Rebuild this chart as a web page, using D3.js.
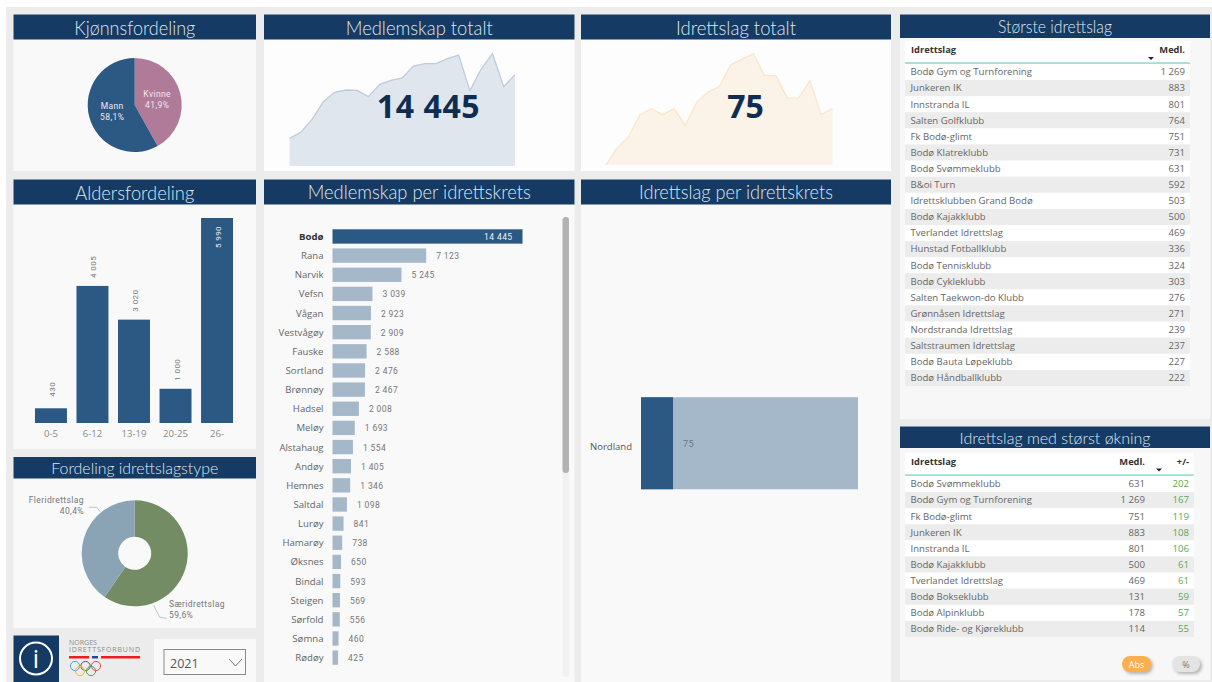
<!DOCTYPE html>
<html>
<head>
<meta charset="UTF-8">
<title>Idrettsrapport Bodø</title>
<script src="https://cdn.jsdelivr.net/npm/d3@7/dist/d3.min.js"></script>
<style>
html, body { margin:0; padding:0; background:#fff; overflow:hidden; }
svg { display:block; }
text { font-family:"Open Sans", sans-serif; }
.title { font-family:Lato, sans-serif; font-weight:300; fill:#dfe8f0; text-anchor:middle; }
.lbl { font-family:Roboto, sans-serif; letter-spacing:.4px; }
</style>
</head>
<body>
<svg id="chart" width="1212" height="682"></svg>
<script>
const genderLabels = ['Kvinne', 'Mann'];
const genderValues = [41.9, 58.1];
const memberTrend = [4376, 5325, 7381, 10175, 11651, 12020, 11967, 10966, 12916, 13549, 13918, 15816, 16185, 16185, 16976, 17555, 11915, 15341, 17767, 12547, 14445];
const clubTrend = [0, 23, 38, 67, 75, 67, 75, 53, 83, 97, 104, 133, 141, 148, 119, 119, 89, 89, 112, 67, 75];
const ageGroups = ['0-5', '6-12', '13-19', '20-25', '26-'];
const ageValues = [430, 4005, 3020, 1000, 5990];
const typeLabels = ['Særidrettslag', 'Fleridrettslag'];
const typeValues = [59.6, 40.4];
const kommuner = ['Bodø','Rana','Narvik','Vefsn','Vågan','Vestvågøy','Fauske','Sortland','Brønnøy','Hadsel','Meløy','Alstahaug','Andøy','Hemnes','Saltdal','Lurøy','Hamarøy','Øksnes','Bindal','Steigen','Sørfold','Sømna','Rødøy'];
const kommuneValues = [14445,7123,5245,3039,2923,2909,2588,2476,2467,2008,1693,1554,1405,1346,1098,841,738,650,593,569,556,460,425];
const kretsNames = ['Nordland'];
const kretsSelected = [75];
const kretsTotal = [508];
const bigClubs = ['Bodø Gym og Turnforening','Junkeren IK','Innstranda IL','Salten Golfklubb','Fk Bodø-glimt','Bodø Klatreklubb','Bodø Svømmeklubb','B&oi Turn','Idrettsklubben Grand Bodø','Bodø Kajakklubb','Tverlandet Idrettslag','Hunstad Fotballklubb','Bodø Tennisklubb','Bodø Cykleklubb','Salten Taekwon-do Klubb','Grønnåsen Idrettslag','Nordstranda Idrettslag','Saltstraumen Idrettslag','Bodø Bauta Løpeklubb','Bodø Håndballklubb'];
const bigMembers = [1269,883,801,764,751,731,631,592,503,500,469,336,324,303,276,271,239,237,227,222];
const growClubs = ['Bodø Svømmeklubb','Bodø Gym og Turnforening','Fk Bodø-glimt','Junkeren IK','Innstranda IL','Bodø Kajakklubb','Tverlandet Idrettslag','Bodø Bokseklubb','Bodø Alpinklubb','Bodø Ride- og Kjøreklubb'];
const growMembers = [631,1269,751,883,801,500,469,131,178,114];
const growChange = [202,167,119,108,106,61,61,59,57,55];

const navy = '#153a63', bar = '#2b5983', barLight = '#a5b8ca';
const fmt = n => String(n).replace(/\B(?=(\d{3})+$)/g, '\u00a0');
const dec = n => String(n).replace('.', ',') + '%';
const svg = d3.select('#chart');

svg.append('rect').attr('x', 6).attr('y', 7).attr('width', 1206).attr('height', 675).attr('fill', '#ececec');

// titleW squeezes the title to the width it has in the original font
function panel(x, w, y, hh, bottom, title, size, titleW, bodyFill) {
  svg.append('rect').attr('x', x).attr('y', y).attr('width', w).attr('height', bottom - y).attr('fill', bodyFill || '#f9f9f9');
  svg.append('rect').attr('x', x).attr('y', y).attr('width', w).attr('height', hh).attr('fill', navy);
  svg.append('text').attr('class', 'title').attr('x', x + w / 2).attr('y', y + hh / 2 + size * 0.36 + 0.5)
    .attr('font-size', size).attr('textLength', titleW).attr('lengthAdjust', 'spacingAndGlyphs').text(title);
}
panel(13.5, 242.5, 14.5, 25, 171, 'Kjønnsfordeling', 20, 121);
panel(264, 310.5, 14.5, 25, 171, 'Medlemskap totalt', 20, 147, '#fdfdfd');
panel(581, 310, 14.5, 25, 171, 'Idrettslag totalt', 20, 120, '#fdfdfd');
panel(900, 310, 14.5, 23.5, 419, 'Største idrettslag', 17.5, 114, '#f7f7f7');
panel(13.5, 242.5, 179.5, 25, 449, 'Aldersfordeling', 20, 119);
panel(264, 310.5, 179.5, 25, 682, 'Medlemskap per idrettskrets', 19, 223, '#f9f9f9');
panel(581, 310, 179.5, 25, 682, 'Idrettslag per idrettskrets', 19, 194, '#f9f9f9');
panel(13.5, 242.5, 457, 21.5, 628, 'Fordeling idrettslagstype', 16.5, 167);
panel(900, 310, 426.5, 21.5, 680, 'Idrettslag med størst økning', 16.5, 191, '#f7f7f7');

// gender pie
const pie = d3.pie().sort(null);
const gPie = svg.append('g').attr('transform', 'translate(134.7,105)');
const arcG = d3.arc().innerRadius(0).outerRadius(47);
gPie.selectAll('path').data(pie(genderValues)).join('path')
  .attr('d', arcG).attr('fill', (d, i) => i ? bar : '#b07a99');
gPie.selectAll('text.n').data(pie(genderValues)).join('text')
  .attr('class', 'n lbl').attr('text-anchor', 'middle').attr('font-size', 8.5).attr('fill', '#f1e6ee')
  .attr('x', (d, i) => i ? -22.5 : 22.5).attr('y', (d, i) => i ? 4 : -8).text((d, i) => genderLabels[i]);
gPie.selectAll('text.v').data(pie(genderValues)).join('text')
  .attr('class', 'v lbl').attr('text-anchor', 'middle').attr('font-size', 8.5).attr('fill', '#f1e6ee')
  .attr('x', (d, i) => i ? -22.5 : 22.5).attr('y', (d, i) => i ? 15 : 2.5).text((d, i) => dec(genderValues[i]));

// sparklines
function spark(values, x0, x1, yDomain, y0, y1, fill, line) {
  const x = d3.scaleLinear().domain([0, values.length - 1]).range([x0, x1]);
  const y = d3.scaleLinear().domain(yDomain).range([y0, y1]);
  svg.append('path').datum(values).attr('fill', fill)
    .attr('d', d3.area().x((d, i) => x(i)).y0(y0).y1(d => y(d)));
  svg.append('path').datum(values).attr('fill', 'none').attr('stroke', line).attr('stroke-width', 1.3)
    .attr('d', d3.line().x((d, i) => x(i)).y(d => y(d)));
}
spark(memberTrend, 289.5, 515, [0, 18000], 166, 52.2, '#dfe6ee', '#bccddb');
spark(clubTrend, 606, 832.5, [0, 150], 165, 52.3, '#fcf3e8', '#fbe6cc');
svg.append('text').attr('x', 428.5).attr('y', 117.5).attr('text-anchor', 'middle').attr('font-size', 32).attr('font-weight', 700).attr('fill', '#0f2d52').attr('letter-spacing', 0.6).text(fmt(14445));
svg.append('text').attr('x', 745.5).attr('y', 117.5).attr('text-anchor', 'middle').attr('font-size', 32).attr('font-weight', 700).attr('fill', '#0f2d52').text(clubTrend[clubTrend.length - 1]);

// age bars
const xAge = d3.scaleBand().domain(ageGroups).range([30.2, 237.8]).paddingInner(0.23).paddingOuter(0.115);
const yAge = d3.scaleLinear().domain([0, 5990]).range([423, 218]);
svg.append('g').selectAll('rect').data(ageValues).join('rect')
  .attr('x', (d, i) => xAge(ageGroups[i])).attr('y', d => yAge(d))
  .attr('width', xAge.bandwidth()).attr('height', d => 423 - yAge(d)).attr('fill', bar);
svg.append('g').selectAll('text').data(ageValues).join('text')
  .attr('class', 'lbl').attr('font-size', 8).attr('text-anchor', 'middle')
  .attr('fill', d => d === 5990 ? '#e8eef4' : '#777')
  .attr('transform', (d, i) => {
    const cx = xAge(ageGroups[i]) + xAge.bandwidth() / 2 + 4;
    const cy = d === 5990 ? yAge(d) + 19 : yAge(d) - 19;
    return `translate(${cx},${cy}) rotate(-90)`;
  }).text(d => fmt(d));
svg.append('g').selectAll('text').data(ageGroups).join('text')
  .attr('x', d => xAge(d) + xAge.bandwidth() / 2).attr('y', 437).attr('text-anchor', 'middle')
  .attr('font-size', 9.5).attr('fill', '#8a8a8a').text(d => d);

// club type donut
const gDonut = svg.append('g').attr('transform', 'translate(134.7,553.3)');
const arcD = d3.arc().innerRadius(16.5).outerRadius(53);
gDonut.selectAll('path').data(pie(typeValues)).join('path')
  .attr('d', arcD).attr('fill', (d, i) => i ? '#8ba4b5' : '#748c63');
const leaders = [[[19, 52], [25, 64], [32, 65]], [[-34, -41], [-38, -46], [-46, -46]]];
gDonut.selectAll('path.lead').data(leaders).join('path').attr('class', 'lead')
  .attr('fill', 'none').attr('stroke', '#b5b5b5').attr('stroke-width', 0.8).attr('d', d3.line());
svg.append('text').attr('class', 'lbl').attr('x', 169).attr('y', 607).attr('font-size', 8.5).attr('fill', '#777').text(typeLabels[0]);
svg.append('text').attr('class', 'lbl').attr('x', 169).attr('y', 618).attr('font-size', 8.5).attr('fill', '#777').text(dec(typeValues[0]));
svg.append('text').attr('class', 'lbl').attr('x', 84).attr('y', 503).attr('text-anchor', 'end').attr('font-size', 8.5).attr('fill', '#777').text(typeLabels[1]);
svg.append('text').attr('class', 'lbl').attr('x', 84).attr('y', 513.5).attr('text-anchor', 'end').attr('font-size', 8.5).attr('fill', '#777').text(dec(typeValues[1]));

// members per kommune
const yK = d3.scaleBand().domain(kommuner).range([226.9, 667.2]).paddingInner(0.25).paddingOuter(0.125);
const xK = d3.scaleLinear().domain([0, 14445]).range([332.5, 522.5]);
svg.append('g').selectAll('rect').data(kommuneValues).join('rect')
  .attr('x', xK(0)).attr('y', (d, i) => yK(kommuner[i]))
  .attr('width', d => xK(d) - xK(0)).attr('height', yK.bandwidth())
  .attr('fill', (d, i) => i ? barLight : bar);
svg.append('g').selectAll('text').data(kommuner).join('text')
  .attr('x', 323.5).attr('y', d => yK(d) + yK.bandwidth() / 2 + 3.5).attr('text-anchor', 'end')
  .attr('font-size', 9.6).attr('font-weight', (d, i) => i ? 400 : 700)
  .attr('fill', (d, i) => i ? '#666' : '#333').text(d => d);
svg.append('g').selectAll('text').data(kommuneValues).join('text')
  .attr('class', 'lbl').attr('font-size', 8.5).attr('fill', (d, i) => i ? '#777' : '#eef2f6')
  .attr('text-anchor', (d, i) => i ? 'start' : 'end')
  .attr('x', (d, i) => i ? xK(d) + 10 : xK(d) - 10)
  .attr('y', (d, i) => yK(kommuner[i]) + yK.bandwidth() / 2 + 3.5).text(d => fmt(d));
svg.append('rect').attr('x', 562.5).attr('y', 217).attr('width', 6.5).attr('height', 460).attr('rx', 3).attr('fill', '#f1f1f1');
svg.append('rect').attr('x', 562.5).attr('y', 217).attr('width', 6.5).attr('height', 256).attr('rx', 3).attr('fill', '#b3b3b3');

// clubs per krets
const yN = d3.scaleBand().domain(kretsNames).range([387, 499.5]).padding(0.1);
const xN = d3.scaleLinear().domain([0, kretsTotal[0]]).range([641, 858]);
svg.append('rect').attr('x', xN(0)).attr('y', yN('Nordland')).attr('width', xN(kretsTotal[0]) - xN(0)).attr('height', yN.bandwidth()).attr('fill', barLight);
svg.append('rect').attr('x', xN(0)).attr('y', yN('Nordland')).attr('width', xN(kretsSelected[0]) - xN(0)).attr('height', yN.bandwidth()).attr('fill', bar);
svg.append('text').attr('x', 632).attr('y', 449.5).attr('text-anchor', 'end').attr('font-size', 9.5).attr('fill', '#555').text(kretsNames[0]);
svg.append('text').attr('class', 'lbl').attr('x', xN(kretsSelected[0]) + 10).attr('y', 447).attr('font-size', 9).attr('fill', '#66788a').text(kretsSelected[0]);

// tables
function table(opts) {
  const { x0, x1, top, line, rowY, names, cols } = opts;
  const g = svg.append('g');
  g.append('rect').attr('x', x0).attr('y', top).attr('width', x1 - x0).attr('height', line - top).attr('fill', '#fff');
  const rowStep = 16.1;
  const rows = g.selectAll('g').data(names).join('g').attr('transform', (d, i) => `translate(0,${rowY + i * rowStep})`);
  rows.append('rect').attr('x', x0).attr('y', -8).attr('width', x1 - x0).attr('height', rowStep)
    .attr('fill', (d, i) => i % 2 ? '#ececec' : '#fff');
  rows.append('text').attr('x', x0 + 5.5).attr('y', 3.3).attr('font-size', 9.6).attr('fill', '#666').text(d => d);
  g.append('line').attr('x1', x0).attr('x2', x1).attr('y1', line).attr('y2', line).attr('stroke', '#5cc6b8').attr('stroke-width', 1);
  g.append('text').attr('x', x0 + 6).attr('y', top + 11.5).attr('font-size', 9.3).attr('font-weight', 700).attr('fill', '#333').text('Idrettslag');
  cols.forEach(c => {
    g.append('text').attr('x', c.x).attr('y', top + 11.5).attr('text-anchor', 'end').attr('font-size', 9.3).attr('font-weight', 700).attr('fill', '#333').text(c.head);
    rows.append('text').attr('x', c.x).attr('y', 3.3).attr('text-anchor', 'end').attr('font-size', 9.6)
      .attr('fill', c.color || '#666').text((d, i) => fmt(c.values[i]));
  });
  g.append('path').attr('d', d3.line()([[opts.ax - 3, opts.ay], [opts.ax + 3, opts.ay], [opts.ax, opts.ay + 3]])).attr('fill', '#222');
}
table({ x0: 905, x1: 1190, top: 41, line: 63, rowY: 72, names: bigClubs, ax: 1151, ay: 57,
  cols: [{ x: 1185, head: 'Medl.', values: bigMembers }] });
table({ x0: 905, x1: 1194, top: 453, line: 475, rowY: 484, names: growClubs, ax: 1159, ay: 468.5,
  cols: [{ x: 1145, head: 'Medl.', values: growMembers }, { x: 1189, head: '+/-', values: growChange, color: '#5aa84f' }] });

// toggle buttons
const shadow = svg.append('defs').append('filter').attr('id', 'sh').attr('x', '-30%').attr('y', '-30%').attr('width', '170%').attr('height', '170%');
shadow.append('feDropShadow').attr('dx', 2).attr('dy', 2).attr('stdDeviation', 1.5).attr('flood-color', '#999').attr('flood-opacity', 0.7);
svg.append('rect').attr('x', 1122).attr('y', 656).attr('width', 29).attr('height', 16).attr('rx', 8).attr('fill', '#fbb04f').attr('filter', 'url(#sh)');
svg.append('text').attr('x', 1136.5).attr('y', 667.5).attr('text-anchor', 'middle').attr('font-size', 9).attr('fill', '#fff').text('Abs');
svg.append('rect').attr('x', 1172).attr('y', 656).attr('width', 28).attr('height', 16).attr('rx', 8).attr('fill', '#e4e4e4').attr('filter', 'url(#sh)');
svg.append('text').attr('x', 1186).attr('y', 667.5).attr('text-anchor', 'middle').attr('font-size', 9).attr('fill', '#777').text('%');

// info button
svg.append('rect').attr('x', 13.5).attr('y', 635.5).attr('width', 45.5).attr('height', 46.5).attr('fill', navy);
svg.append('circle').attr('cx', 36).attr('cy', 658.5).attr('r', 16).attr('fill', 'none').attr('stroke', '#fff').attr('stroke-width', 2);
svg.append('text').attr('x', 36).attr('y', 667.5).attr('text-anchor', 'middle').attr('font-size', 25).attr('fill', '#fff').text('i');

// logo
svg.append('text').attr('x', 69).attr('y', 645).attr('font-size', 7).attr('fill', '#8a8a8a').text('NORGES');
svg.append('text').attr('x', 69).attr('y', 652).attr('font-size', 7).attr('fill', '#8a8a8a').attr('textLength', 71).text('IDRETTSFORBUND');
[[69, 20, '#ee1c25'], [92, 6, '#1f4e8c'], [101, 39, '#ee1c25']].forEach(r =>
  svg.append('rect').attr('x', r[0]).attr('y', 656).attr('width', r[1]).attr('height', 2.5).attr('fill', r[2]));
[[75, 666, '#5b9bd5'], [85.5, 666, '#555'], [96, 666, '#d9534f'], [80, 671, '#f2b632'], [91, 671, '#4aa564']].forEach(c =>
  svg.append('circle').attr('cx', c[0]).attr('cy', c[1]).attr('r', 4.6).attr('fill', 'none').attr('stroke', c[2]).attr('stroke-width', 1));

// year slicer
svg.append('rect').attr('x', 154).attr('y', 639).attr('width', 102).attr('height', 43).attr('fill', '#f9f9f9');
svg.append('rect').attr('x', 164).attr('y', 649.5).attr('width', 81.5).attr('height', 25).attr('fill', 'none').attr('stroke', '#8a8a8a').attr('stroke-width', 1);
svg.append('text').attr('x', 170).attr('y', 668).attr('font-size', 12.5).attr('fill', '#555').text('2021');
svg.append('path').attr('d', d3.line()([[229, 659], [235.5, 666], [242, 659]])).attr('fill', 'none').attr('stroke', '#777').attr('stroke-width', 1);
</script>
</body>
</html>
